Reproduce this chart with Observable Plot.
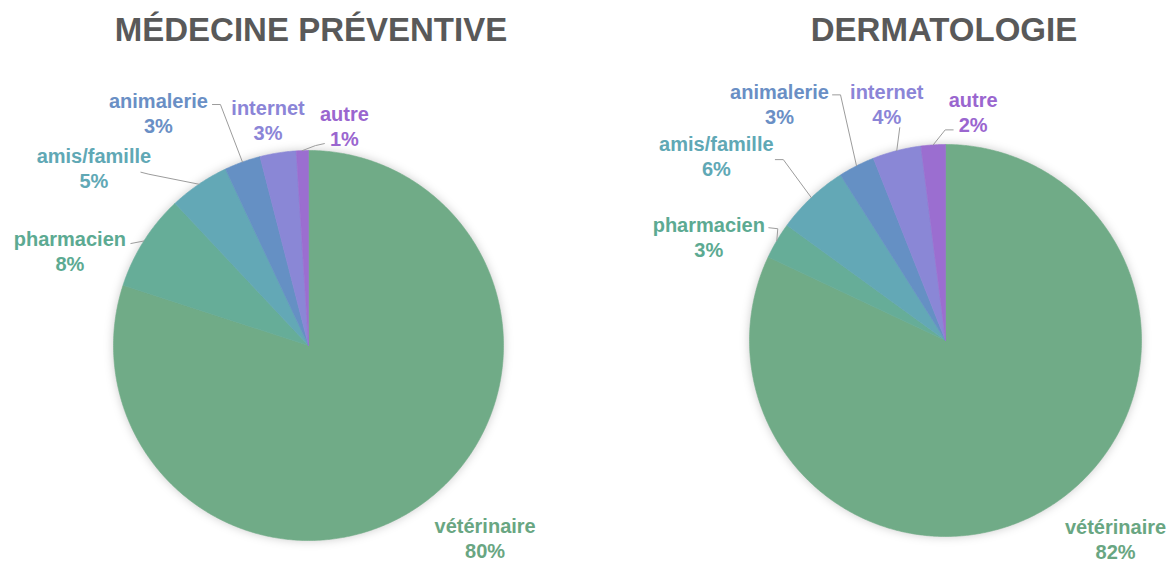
<!DOCTYPE html>
<html><head><meta charset="utf-8">
<script src="https://cdn.jsdelivr.net/npm/d3@7"></script>
<script src="https://cdn.jsdelivr.net/npm/@observablehq/plot@0.6"></script>
<style>
html,body{margin:0;padding:0;background:#fff;}
#page{position:relative;width:1175px;height:562px;overflow:hidden;font-family:"Liberation Sans",Arial,sans-serif;}
.title{position:absolute;top:10px;width:600px;line-height:40px;text-align:center;font-weight:bold;font-size:33px;color:#595959;}
.panel{position:absolute;top:50px;}
.panel svg{overflow:visible;}
</style></head><body>
<div id="page"></div>
<script>
// ---- data ----
const categories = ["vétérinaire","pharmacien","amis/famille","animalerie","internet","autre"];
const titles = ["MÉDECINE PRÉVENTIVE","DERMATOLOGIE"];
const valuesPreventive = [80,8,5,3,3,1];
const valuesDermatology = [82,3,6,3,4,2];
const sliceColors = ["#70ab87","#66ad98","#63a8b6","#6590c4","#8a87d6","#9b6ed0"];
const labelColors = ["#69a682","#5caa92","#60a8b5","#6a8fc5","#8b85d7","#9a66cf"];

// ---- layout (pixel offsets from each slice's outer mid-point) ----
const layouts = [
  { cx:308, cy:295, r:195, left:0, width:587, titleCx:311,
    offsets: {
      "vétérinaire": {label:[62,34]},
      "pharmacien": {label:[-74,9], leader:[[-13,2.5]]},
      "amis/famille": {label:[-105,-17], leader:[[-50,-10],[-58,-12]]},
      "animalerie": {label:[-84,-50], leader:[[-22,-57.5],[-30,-57.5]]},
      "internet": {label:[-10,-33]},
      "autre": {label:[42,-25], leader:[[13,-5],[22,-7]]}
    }},
  { cx:358, cy:290, r:196, left:587, width:588, titleCx:944,
    offsets: {
      "vétérinaire": {label:[65,33]},
      "pharmacien": {label:[-68,-4], leader:[[1,-12],[-8,-13]]},
      "amis/famille": {label:[-95,-42], leader:[[-28,-38],[-36,-38]]},
      "animalerie": {label:[-77,-62], leader:[[-16,-71],[-24,-71]]},
      "internet": {label:[-10,-47], leader:[[3,-23]]},
      "autre": {label:[40,-33], leader:[[12,-15],[20,-15]]}
    }}
];

const page = document.getElementById("page");
const allValues = [valuesPreventive, valuesDermatology];

allValues.forEach((vals, pi) => {
  const L = layouts[pi];
  const rows = categories.map((c,i)=>({cat:c, value:vals[i], color:sliceColors[i], labelColor:labelColors[i]}));
  const arcs = d3.pie().sort(null).value(d=>d.value).startAngle(0).endAngle(2*Math.PI)(rows);

  const slicePts = [];
  const labels = [];
  const leaders = [];
  arcs.forEach(a => {
    const d = a.data;
    slicePts.push({cat:d.cat, x:0, y:0, color:d.color});
    const n = Math.max(2, Math.ceil((a.endAngle-a.startAngle)/(Math.PI/360)));
    for (let k=0;k<=n;k++){
      const t = a.startAngle + (a.endAngle-a.startAngle)*k/n;
      slicePts.push({cat:d.cat, x:Math.sin(t), y:Math.cos(t), color:d.color});
    }
    slicePts.push({cat:d.cat, x:0, y:0, color:d.color});
    const mid = (a.startAngle+a.endAngle)/2;
    const ex = Math.sin(mid), ey = Math.cos(mid);
    const off = L.offsets[d.cat];
    labels.push({x: ex + off.label[0]/L.r, y: ey - off.label[1]/L.r,
                 text: d.cat + "\n" + d.value + "%", color: d.labelColor});
    if (off.leader) {
      leaders.push({cat:d.cat, x:ex, y:ey});
      off.leader.forEach(p => leaders.push({cat:d.cat, x: ex + p[0]/L.r, y: ey - p[1]/L.r}));
    }
  });

  const chart = Plot.plot({
    width: L.width,
    height: 512,
    margin: 0,
    style: {background:"transparent", fontFamily:"'Liberation Sans', Arial, sans-serif", overflow:"visible"},
    x: {domain:[-1,1], range:[L.cx-L.r, L.cx+L.r], axis:null},
    y: {domain:[-1,1], range:[L.cy+L.r, L.cy-L.r], axis:null},
    color: {type:"identity"},
    marks: [
      Plot.line(slicePts, {x:"x", y:"y", z:"cat", fill:"color", stroke:"color", strokeWidth:0.6, curve:"linear"}),
      Plot.line(leaders, {x:"x", y:"y", z:"cat", stroke:"#9c9c9c", strokeWidth:1}),
      Plot.text(labels, {x:"x", y:"y", text:"text", fill:"color", fontSize:20, fontWeight:"bold", lineHeight:1.25, fontFamily:"'Liberation Sans', Arial, sans-serif"})
    ]
  });
  const firstLine = chart.querySelector('g[aria-label="line"]');
  if (firstLine) firstLine.style.filter = "drop-shadow(0px 0px 5px rgba(0,0,0,0.2))";

  const panel = document.createElement("div");
  panel.className = "panel";
  panel.style.left = L.left + "px";
  panel.style.width = L.width + "px";
  panel.appendChild(chart);
  page.appendChild(panel);

  const t = document.createElement("div");
  t.className = "title";
  t.style.left = (L.titleCx - 300) + "px";
  t.textContent = titles[pi];
  page.appendChild(t);
});
</script>
</body></html>
